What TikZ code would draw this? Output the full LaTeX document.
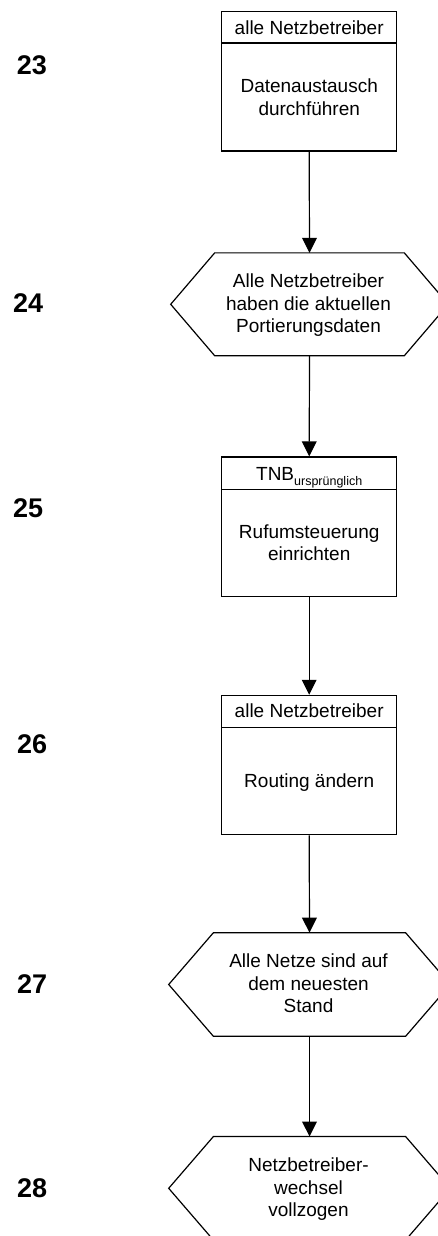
\documentclass[tikz,border=0pt]{standalone}
\usepackage{fontspec}
\setmainfont{Liberation Sans}
\usetikzlibrary{arrows.meta,calc}
\begin{document}
\begin{tikzpicture}[x=1pt,y=-1pt, line width=1.2pt,
  lbl/.style={font=\fontsize{19}{22.5}\selectfont, inner sep=0pt, align=center, anchor=base},
  num/.style={font=\fontsize{27}{30}\selectfont\bfseries, inner sep=0pt, anchor=base west},
  boxnode/.style={draw, rectangle, minimum width=175pt, minimum height=139.3pt, inner sep=0pt},
  hexnode/.style={rectangle, inner sep=0pt, minimum height=102pt},
  arr/.style={-{Triangle[length=15pt,width=14.7pt]}}]
\useasboundingbox (0,0) rectangle (438,1236);
\clip (0,0) rectangle (438,1236);

% numbers
\node[num] (n23) at (16.2,75) {23};
\node[num] (n24) at (12.5,312) {24};
\node[num] (n25) at (12.5,517) {25};
\node[num] (n26) at (16.5,753) {26};
\node[num] (n27) at (16.5,993) {27};
\node[num] (n28) at (16.5,1197) {28};

% boxes
\node[boxnode] (b1) at (309.2,81.35) {};
\draw ($(b1.north west)+(0,32)$) -- ($(b1.north east)+(0,32)$);
\node[lbl] (b1h) at (309.2,35) {alle Netzbetreiber};
\node[lbl] (b1t) at (309.2,115.2) {Datenaustausch\\durchführen};

\node[boxnode] (b3) at (309.2,526.65) {};
\draw ($(b3.north west)+(0,32.7)$) -- ($(b3.north east)+(0,32.7)$);
\node[lbl] (b3h) at (309.2,480) {TNB\raisebox{-5.5pt}{\fontsize{12.5}{14}\selectfont ursprünglich}};
\node[lbl] (b3t) at (309.2,560.8) {Rufumsteuerung\\einrichten};

\node[boxnode] (b4) at (309.2,765) {};
\draw ($(b4.north west)+(0,32.7)$) -- ($(b4.north east)+(0,32.7)$);
\node[lbl] (b4h) at (309.2,717.7) {alle Netzbetreiber};
\node[lbl] (b4t) at (309.2,787.3) {Routing ändern};

% hexagons
\node[hexnode, minimum width=276.4pt, minimum height=101.7pt] (h1) at (309.5,304.3) {};
\node[hexnode, minimum width=280.4pt, minimum height=102.4pt] (h2) at (309.5,984.5) {};
\node[hexnode, minimum width=280.4pt, minimum height=102.4pt] (h3) at (309.5,1188.3) {};
\draw (h1.west) -- ($(h1.north west)+(44,0)$) -- ($(h1.north east)+(-44,0)$) -- (h1.east)
  -- ($(h1.south east)+(-44,0)$) -- ($(h1.south west)+(44,0)$) -- cycle;
\draw (h2.west) -- ($(h2.north west)+(44.7,0)$) -- ($(h2.north east)+(-44.7,0)$) -- (h2.east)
  -- ($(h2.south east)+(-44.7,0)$) -- ($(h2.south west)+(44.7,0)$) -- cycle;
\draw (h3.west) -- ($(h3.north west)+(44.7,0)$) -- ($(h3.north east)+(-44.7,0)$) -- (h3.east)
  -- ($(h3.south east)+(-44.7,0)$) -- ($(h3.south west)+(44.7,0)$) -- cycle;
\node[lbl] (h1t) at (308.5,332.7) {Alle Netzbetreiber\\haben die aktuellen\\Portierungsdaten};
\node[lbl] (h2t) at (308.5,1012.5) {Alle Netze sind auf\\dem neuesten\\Stand};
\node[lbl] (h3t) at (308.5,1216.7) {Netzbetreiber-\\wechsel\\vollzogen};

% connectors
\draw[arr] (b1.south) -- (h1.north);
\draw[arr] (h1.south) -- (b3.north);
\draw[arr] (b3.south) -- (b4.north);
\draw[arr] (b4.south) -- (h2.north);
\draw[arr] (h2.south) -- (h3.north);
\end{tikzpicture}
\end{document}
